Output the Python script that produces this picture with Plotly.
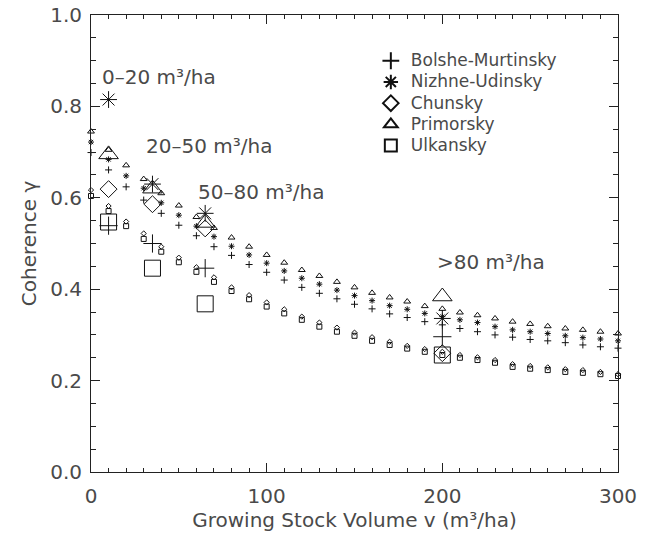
import plotly.graph_objects as go

# ---------------- data ----------------
volume = [0, 10, 20, 30, 40, 50, 60, 70, 80, 90, 100, 110, 120, 130, 140, 150,
          160, 170, 180, 190, 200, 210, 220, 230, 240, 250, 260, 270, 280, 290, 300]

bolshe_small = [0.699, 0.661, 0.624, 0.595, 0.566, 0.540, 0.517, 0.493, 0.474, 0.454,
                0.437, 0.420, 0.404, 0.391, 0.379, 0.367, 0.357, 0.346, 0.338, 0.329,
                0.322, 0.314, 0.307, 0.300, 0.295, 0.290, 0.287, 0.283, 0.278, 0.274, 0.271]
nizhne_small = [0.722, 0.684, 0.648, 0.621, 0.589, 0.562, 0.538, 0.515, 0.494, 0.475,
                0.457, 0.440, 0.424, 0.411, 0.398, 0.386, 0.375, 0.364, 0.356, 0.347,
                0.340, 0.333, 0.327, 0.318, 0.311, 0.307, 0.303, 0.298, 0.294, 0.291, 0.287]
chunsky_small = [0.617, 0.582, 0.548, 0.522, 0.493, 0.469, 0.448, 0.426, 0.404, 0.387,
                 0.371, 0.356, 0.340, 0.327, 0.316, 0.305, 0.295, 0.285, 0.276, 0.269,
                 0.263, 0.256, 0.251, 0.245, 0.236, 0.232, 0.229, 0.225, 0.223, 0.219, 0.214]
primorsky_small = [0.745, 0.705, 0.671, 0.641, 0.610, 0.583, 0.558, 0.534, 0.513, 0.493,
                   0.475, 0.458, 0.442, 0.429, 0.416, 0.404, 0.392, 0.382, 0.373, 0.363,
                   0.357, 0.349, 0.343, 0.336, 0.329, 0.324, 0.319, 0.314, 0.311, 0.307, 0.303]
ulkansky_small = [0.604, 0.571, 0.538, 0.510, 0.482, 0.459, 0.438, 0.416, 0.396, 0.378,
                  0.362, 0.347, 0.333, 0.318, 0.307, 0.298, 0.287, 0.278, 0.270, 0.263,
                  0.256, 0.250, 0.245, 0.239, 0.230, 0.226, 0.223, 0.219, 0.217, 0.214, 0.210]

class_volume = [10, 35, 65, 200]
class_labels = ["0–20 m³/ha", "20–50 m³/ha", "50–80 m³/ha", ">80 m³/ha"]
bolshe_big = [0.539, 0.500, 0.446, 0.296]
nizhne_big = [0.815, 0.630, 0.566, 0.336]
chunsky_big = [0.619, 0.586, 0.533, 0.260]
primorsky_big = [0.695, 0.620, 0.545, 0.384]
ulkansky_big = [0.547, 0.446, 0.368, 0.256]

names = ["Bolshe-Murtinsky", "Nizhne-Udinsky", "Chunsky", "Primorsky", "Ulkansky"]

# label anchor positions (data coords) for class labels
label_x = [5, 30, 60, 196]
label_y = [0.865, 0.713, 0.613, 0.46]

# ---------------- styling ----------------
INK = "#111111"
TXT = "#4a4a4a"
FONT = "DejaVu Sans"

series = [
    (names[0], "cross-thin-open", bolshe_small, bolshe_big, 5, 13),
    (names[1], "asterisk-open", nizhne_small, nizhne_big, 5, 14),
    (names[2], "diamond-open", chunsky_small, chunsky_big, 4, 13),
    (names[3], "triangle-up-open", primorsky_small, primorsky_big, 6, 17),
    (names[4], "square-open", ulkansky_small, ulkansky_big, 5, 16),
]

fig = go.Figure()
for name, sym, small, big, ss, bs in series:
    fig.add_trace(go.Scatter(
        x=volume, y=small, mode="markers", showlegend=False, cliponaxis=False,
        marker=dict(symbol=sym, size=ss, color=INK, line=dict(color=INK, width=1)),
        hoverinfo="skip"))
for name, sym, small, big, ss, bs in series:
    fig.add_trace(go.Scatter(
        x=class_volume, y=big, mode="markers", cliponaxis=False,
        name='<span style="font-size:17px">' + name + '</span>',
        marker=dict(symbol=sym, size=bs, color=INK, line=dict(color=INK, width=1))))

for t, lx, ly in zip(class_labels, label_x, label_y):
    fig.add_annotation(x=lx, y=ly, xref="x", yref="y", text=t, showarrow=False,
                       xanchor="left", yanchor="middle",
                       font=dict(family=FONT, size=20, color=TXT))

axis_common = dict(
    showline=True, linecolor="#222222", linewidth=1, mirror="ticks",
    ticks="inside", ticklen=9, tickwidth=1, tickcolor="#222222",
    showgrid=False, zeroline=False, automargin=False,
    tickfont=dict(family=FONT, size=20, color=TXT),
)

fig.update_xaxes(
    range=[0, 300], tickvals=[0, 100, 200, 300], ticktext=["0", "100", "200", "300"],
    minor=dict(dtick=10, ticks="inside", ticklen=4, tickwidth=1, tickcolor="#222222", showgrid=False),
    title=dict(text="Growing Stock Volume v (m³/ha)", font=dict(family=FONT, size=20, color=TXT), standoff=5),
    ticklabelstandoff=6,
    **axis_common)
fig.update_yaxes(
    range=[0, 1], tickvals=[0, 0.2, 0.4, 0.6, 0.8, 1.0], tickformat=".1f",
    minor=dict(dtick=0.05, ticks="inside", ticklen=5, tickwidth=1, tickcolor="#222222", showgrid=False),
    title=dict(text="Coherence γ", font=dict(family=FONT, size=20, color=TXT), standoff=8),
    ticklabelstandoff=4,
    **axis_common)

fig.update_layout(
    width=653, height=537,
    margin=dict(l=91, r=35, t=15, b=65),
    paper_bgcolor="white", plot_bgcolor="white",
    font=dict(family=FONT, color=TXT),
    legend=dict(x=0.531, y=0.934, xanchor="left", yanchor="top",
                bgcolor="rgba(0,0,0,0)", itemsizing="constant",
                font=dict(family=FONT, size=14, color=TXT),
                tracegroupgap=0),
)

fig.write_html("out.html")
